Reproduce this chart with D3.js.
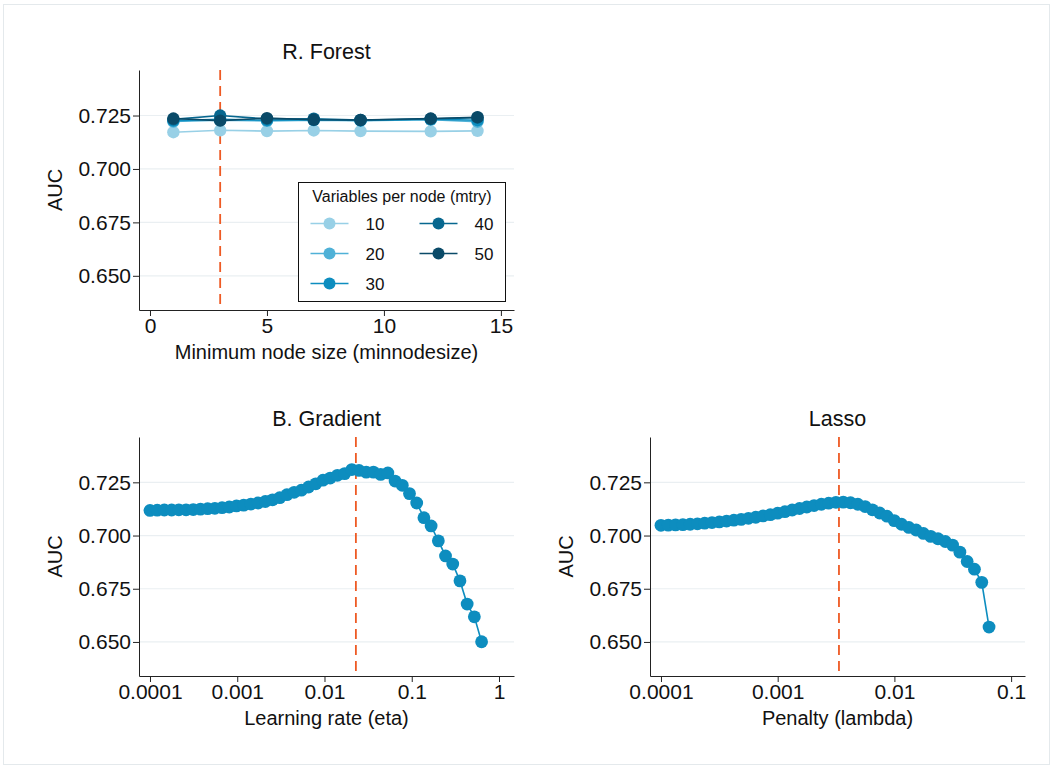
<!DOCTYPE html>
<html>
<head>
<meta charset="utf-8">
<script src="https://cdn.jsdelivr.net/npm/d3@7"></script>
<style>
  body { margin: 0; background: #fff; }
  text { font-family: "Liberation Sans", Arial, sans-serif; fill: #111; }
</style>
</head>
<body>
<svg id="chart" width="1054" height="769"></svg>
<script>
// ---- data ----
// random forest: minimum node size vs AUC, one series per mtry
var rfNodeSize = [1, 3, 5, 7, 9, 12, 14];
var rfMtry = ["10", "20", "30", "40", "50"];
var rfAuc10 = [0.7172, 0.7181, 0.7177, 0.7180, 0.7177, 0.7176, 0.7178];
var rfAuc20 = [0.7222, 0.7228, 0.7225, 0.7228, 0.7226, 0.7230, 0.7221];
var rfAuc30 = [0.7226, 0.7232, 0.7228, 0.7230, 0.7227, 0.7233, 0.7228];
var rfAuc40 = [0.7232, 0.7250, 0.7234, 0.7235, 0.7229, 0.7234, 0.7240];
var rfAuc50 = [0.7236, 0.7226, 0.7238, 0.7230, 0.7229, 0.7236, 0.7242];
var rfBest = 3;

// boosted trees: learning rate vs AUC
var gbEta = [0.0001, 0.000121, 0.000146, 0.000177, 0.000214, 0.000259, 0.000313, 0.000379,
  0.000458, 0.000554, 0.00067, 0.00081, 0.00098, 0.001186, 0.001434, 0.001734, 0.002098,
  0.002537, 0.003069, 0.003712, 0.00449, 0.005431, 0.006569, 0.007945, 0.00961, 0.011624,
  0.01406, 0.017005, 0.020569, 0.024878, 0.030091, 0.036397, 0.044024, 0.053249, 0.064407,
  0.077903, 0.094228, 0.11397, 0.13785, 0.16674, 0.20168, 0.24394, 0.29506, 0.35689,
  0.43167, 0.52213, 0.63154];
var gbAuc = [0.7118, 0.7119, 0.7120, 0.7120, 0.7121, 0.7121, 0.7122, 0.7124, 0.7126, 0.7128,
  0.7131, 0.7134, 0.7139, 0.7143, 0.7148, 0.7153, 0.7160, 0.7168, 0.7178, 0.7192, 0.7203,
  0.7213, 0.7228, 0.7243, 0.7260, 0.7270, 0.7283, 0.7291, 0.7310, 0.7306, 0.7298, 0.7298,
  0.7287, 0.7294, 0.7256, 0.7236, 0.7197, 0.7153, 0.7084, 0.7045, 0.6975, 0.6904, 0.6866,
  0.6787, 0.6678, 0.6618, 0.6501];
var gbBest = 0.0229;

// lasso: penalty vs AUC
var lsLambda = [0.0001, 0.0001155, 0.0001333, 0.000154, 0.0001778, 0.0002053, 0.000237,
  0.0002737, 0.0003161, 0.000365, 0.0004214, 0.0004866, 0.0005619, 0.0006488, 0.0007492,
  0.000865, 0.0009988, 0.0011533, 0.0013318, 0.0015377, 0.0017756, 0.0020503, 0.0023674,
  0.0027336, 0.0031565, 0.0036447, 0.0042085, 0.0048594, 0.0056111, 0.006479, 0.0074812,
  0.0086384, 0.0099747, 0.011518, 0.013299, 0.015356, 0.017731, 0.020474, 0.023641,
  0.027298, 0.031521, 0.036397, 0.042027, 0.048528, 0.056035, 0.064703];
var lsAuc = [0.7048, 0.7049, 0.7050, 0.7051, 0.7053, 0.7055, 0.7058, 0.7061, 0.7064, 0.7068,
  0.7072, 0.7076, 0.7081, 0.7086, 0.7092, 0.7098, 0.7105, 0.7112, 0.7120, 0.7127, 0.7134,
  0.7141, 0.7147, 0.7152, 0.7156, 0.7157, 0.7154, 0.7147, 0.7136, 0.7121, 0.7106, 0.7091,
  0.7070, 0.7053, 0.7038, 0.7026, 0.7010, 0.6996, 0.6985, 0.6972, 0.6955, 0.6922, 0.6878,
  0.6842, 0.6780, 0.6570];
var lsBest = 0.00335;

var aucTicks = [0.650, 0.675, 0.700, 0.725];
var rfTicks = [0, 5, 10, 15];
var gbTicks = [0.0001, 0.001, 0.01, 0.1, 1];
var lsTicks = [0.0001, 0.001, 0.01, 0.1];

var rfColors = ["#98d0e6", "#4fb1d7", "#0d8dbf", "#07678f", "#0a4a68"];
var blue = "#0d8dbf";
var refColor = "#ee5a24";

var svg = d3.select("#chart");

// faint outer frame like the graph region border
svg.append("rect")
    .attr("x", 3.5).attr("y", 4.5)
    .attr("width", 1046).attr("height", 760)
    .attr("fill", "none")
    .attr("stroke", "#e4e9ec");

// one panel: box is {left, top, right, bottom}
function panel(box, xScale, xTicks, xFmt, title, xTitle) {
  var g = svg.append("g");
  var y = d3.scaleLinear().domain([0.634, 0.7463]).range([box.bottom, box.top]);
  xScale.range([box.left, box.right]);

  // gridlines
  g.selectAll(".grid").data(aucTicks).enter().append("line")
      .attr("x1", box.left).attr("x2", box.right)
      .attr("y1", function(d) { return y(d); })
      .attr("y2", function(d) { return y(d); })
      .attr("stroke", "#eaeff2").attr("stroke-width", 1.2);

  var yAxis = d3.axisLeft(y).tickValues(aucTicks).tickFormat(d3.format(".3f")).tickSize(6).tickSizeOuter(0);
  var ga = g.append("g").attr("transform", "translate(" + box.left + ",0)").call(yAxis);
  var xAxis = d3.axisBottom(xScale).tickValues(xTicks).tickFormat(xFmt).tickSize(6).tickSizeOuter(0);
  var gx = g.append("g").attr("transform", "translate(0," + box.bottom + ")").call(xAxis);
  [ga, gx].forEach(function(a) {
    a.select(".domain").attr("stroke", "#222");
    a.selectAll(".tick line").attr("stroke", "#222");
    a.selectAll(".tick text").style("font-size", "21px").attr("fill", "#111");
  });
  ga.selectAll(".tick text").attr("x", -8);
  gx.selectAll(".tick text").attr("y", 8);

  g.append("text")
      .attr("x", (box.left + box.right) / 2).attr("y", box.top - 11)
      .attr("text-anchor", "middle").style("font-size", "21.5px")
      .text(title);
  g.append("text")
      .attr("x", (box.left + box.right) / 2).attr("y", box.bottom + 49)
      .attr("text-anchor", "middle").style("font-size", "20px")
      .text(xTitle);
  g.append("text")
      .attr("transform", "translate(" + (box.left - 77) + "," + ((box.top + box.bottom) / 2) + ") rotate(-90)")
      .attr("text-anchor", "middle").style("font-size", "20px")
      .text("AUC");

  return {g: g, x: xScale, y: y, box: box};
}

function refLine(p, v) {
  p.g.append("line")
      .attr("x1", p.x(v)).attr("x2", p.x(v))
      .attr("y1", p.box.top).attr("y2", p.box.bottom)
      .attr("stroke", refColor).attr("stroke-width", 1.8)
      .attr("stroke-dasharray", "10,6");
}

function series(p, xs, ys, color, r) {
  var pts = xs.map(function(d, i) { return [d, ys[i]]; });
  var line = d3.line().x(function(d) { return p.x(d[0]); }).y(function(d) { return p.y(d[1]); });
  p.g.append("path").datum(pts)
      .attr("d", line).attr("fill", "none")
      .attr("stroke", color).attr("stroke-width", 1.6);
  p.g.selectAll(null).data(pts).enter().append("circle")
      .attr("cx", function(d) { return p.x(d[0]); })
      .attr("cy", function(d) { return p.y(d[1]); })
      .attr("r", r).attr("fill", color);
}

// ---- R. Forest ----
var rf = panel({left: 139, top: 70, right: 514, bottom: 310},
    d3.scaleLinear().domain([-0.47, 15.56]), rfTicks, d3.format("d"),
    "R. Forest", "Minimum node size (minnodesize)");
refLine(rf, rfBest);
[rfAuc10, rfAuc20, rfAuc30, rfAuc40, rfAuc50].forEach(function(s, i) {
  series(rf, rfNodeSize, s, rfColors[i], 6.2);
});

// legend
var lg = svg.append("g").attr("transform", "translate(298.5,182.5)");
lg.append("rect").attr("width", 207).attr("height", 119)
    .attr("fill", "#fff").attr("stroke", "#111").attr("stroke-width", 1);
lg.append("text").attr("x", 103.5).attr("y", 19).attr("text-anchor", "middle")
    .style("font-size", "16px").text("Variables per node (mtry)");
rfMtry.forEach(function(m, i) {
  var col = i < 3 ? 0 : 1;
  var row = i < 3 ? i : i - 3;
  var ex = 12 + col * 109, ey = 41 + row * 30;
  lg.append("line").attr("x1", ex).attr("x2", ex + 38).attr("y1", ey).attr("y2", ey)
      .attr("stroke", rfColors[i]).attr("stroke-width", 1.6);
  lg.append("circle").attr("cx", ex + 19).attr("cy", ey).attr("r", 6).attr("fill", rfColors[i]);
  lg.append("text").attr("x", ex + 55).attr("y", ey + 6)
      .style("font-size", "17px").text(m);
});

// ---- B. Gradient ----
var gb = panel({left: 139, top: 437, right: 514, bottom: 676},
    d3.scaleLog().domain([Math.pow(10, -4.126), Math.pow(10, 0.172)]), gbTicks, d3.format("~g"),
    "B. Gradient", "Learning rate (eta)");
refLine(gb, gbBest);
series(gb, gbEta, gbAuc, blue, 6.4);

// ---- Lasso ----
var ls = panel({left: 650, top: 437, right: 1025, bottom: 676},
    d3.scaleLog().domain([Math.pow(10, -4.094), Math.pow(10, -0.881)]), lsTicks, d3.format("~g"),
    "Lasso", "Penalty (lambda)");
refLine(ls, lsBest);
series(ls, lsLambda, lsAuc, blue, 6.4);
</script>
</body>
</html>
